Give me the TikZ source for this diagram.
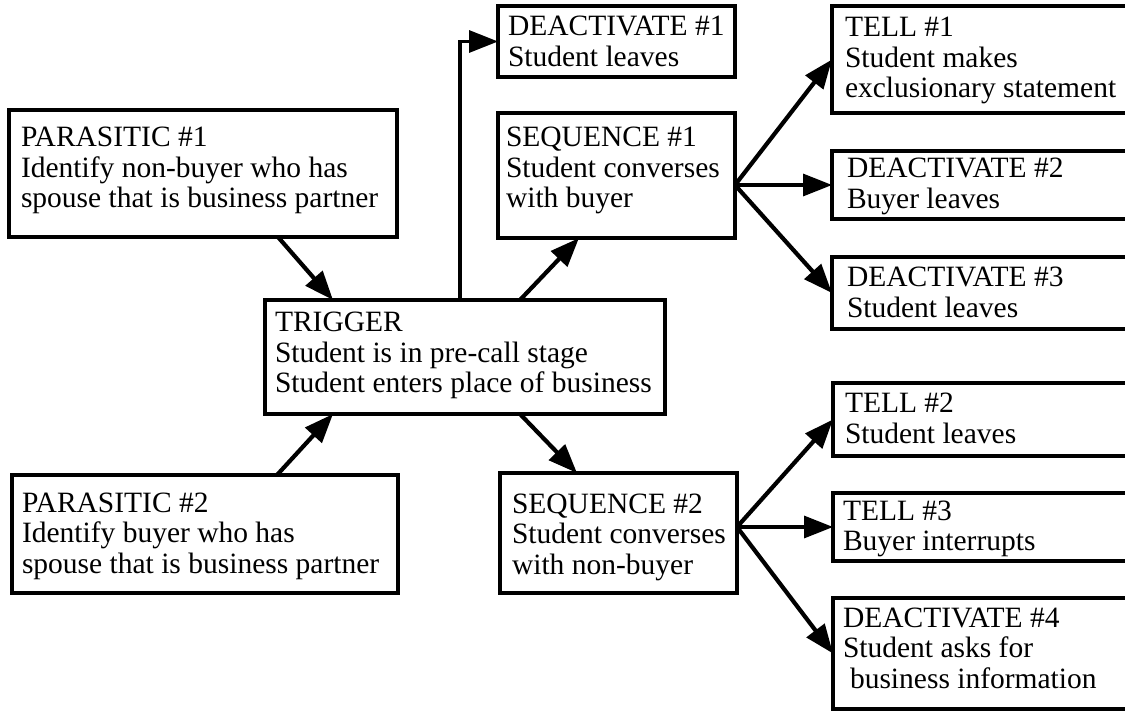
\documentclass[tikz,border=0pt]{standalone}
\usepackage{fontspec}
\setmainfont{Liberation Serif}
\usetikzlibrary{arrows.meta}

\tikzset{
  frame/.style={draw, line width=3.4pt, inner sep=0pt, outer sep=0pt},
  txt/.style={inner sep=0pt, outer sep=0pt, font=\fontsize{29.5}{30.5}\selectfont},
  arr/.style={line width=4.2pt, -{Triangle[length=29pt,width=22pt]}},
  harr/.style={line width=3.4pt, -{Triangle[length=29pt,width=22pt]}},
}

% #1 name, #2 left, #3 top, #4 right, #5 bottom, #6 text inset, #7 first baseline drop, #8 lines
\newcommand\mkbox[8]{%
  \node[frame, anchor=north west, minimum width={#4-#2}, minimum height={#5-#3}] (#1) at (#2,#3) {};
  \node[txt, anchor=base west] (#1-t) at ([xshift=#6pt, yshift=-#7pt]#1.north west)
    {\parbox[t]{400pt}{\raggedright #8}};
}

\begin{document}
\begin{tikzpicture}[x=1pt, y=-1pt, line join=miter]
  \useasboundingbox (0,0) rectangle (1125,711);
  \fill[white] (0,0) rectangle (1125,711);

  % left column
  \mkbox{p1}{9}{110}{397}{237}{12}{37}{PARASITIC \#1\\Identify non-buyer who has\\spouse that is business partner}
  \mkbox{p2}{12}{475}{398}{593}{10}{37}{PARASITIC \#2\\Identify buyer who has\\spouse that is business partner}

  % trigger
  \mkbox{trig}{265}{300}{665}{414}{10}{32}{TRIGGER\\Student is in pre-call stage\\Student enters place of business}

  % middle column
  \mkbox{d1}{498}{6}{735}{77}{10}{30}{DEACTIVATE \#1\\Student leaves}
  \mkbox{s1}{498}{113}{735}{238}{8}{34}{SEQUENCE \#1\\Student converses\\with buyer}
  \mkbox{s2}{500}{473}{737}{593}{12}{40}{SEQUENCE \#2\\Student converses\\with non-buyer}

  % right column
  \mkbox{t1}{832}{6}{1130}{113}{13}{31}{TELL \#1\\Student makes\\exclusionary statement}
  \mkbox{d2}{832}{151}{1130}{219}{15}{27}{DEACTIVATE \#2\\Buyer leaves}
  \mkbox{d3}{832}{257}{1130}{329}{15}{30}{DEACTIVATE \#3\\Student leaves}
  \mkbox{t2}{833}{383}{1130}{456}{12}{30}{TELL \#2\\Student leaves}
  \mkbox{t3}{833}{493}{1130}{561}{10}{27}{TELL \#3\\Buyer interrupts}
  \mkbox{d4}{833}{598}{1130}{709}{10}{29}{DEACTIVATE \#4\\Student asks for\\\hspace*{7pt}business information}

  % connectors into the trigger
  \draw[arr] ([xshift=269pt]p1.south west) -- ([xshift=68pt]trig.north west);
  \draw[arr] ([xshift=265pt]p2.north west) -- ([xshift=68pt]trig.south west);

  % connectors out of the trigger
  \draw[harr] ([xshift=195pt]trig.north west) |- (d1.west);
  \draw[arr] ([xshift=255pt]trig.north west) -- ([xshift=81pt]s1.south west);
  \draw[arr] ([xshift=255pt]trig.south west) -- ([xshift=77pt]s2.north west);

  % fan out of sequence 1
  \coordinate (f1) at (s1.east |- d2.west);
  \draw[arr] (f1) -- (t1.west);
  \draw[harr] (f1) -- (d2.west);
  \draw[arr] (f1) -- (d3.west);

  % fan out of sequence 2
  \coordinate (f2) at (s2.east |- t3.west);
  \draw[arr] (f2) -- (t2.west);
  \draw[harr] (f2) -- (t3.west);
  \draw[arr] (f2) -- (d4.west);
\end{tikzpicture}
\end{document}
